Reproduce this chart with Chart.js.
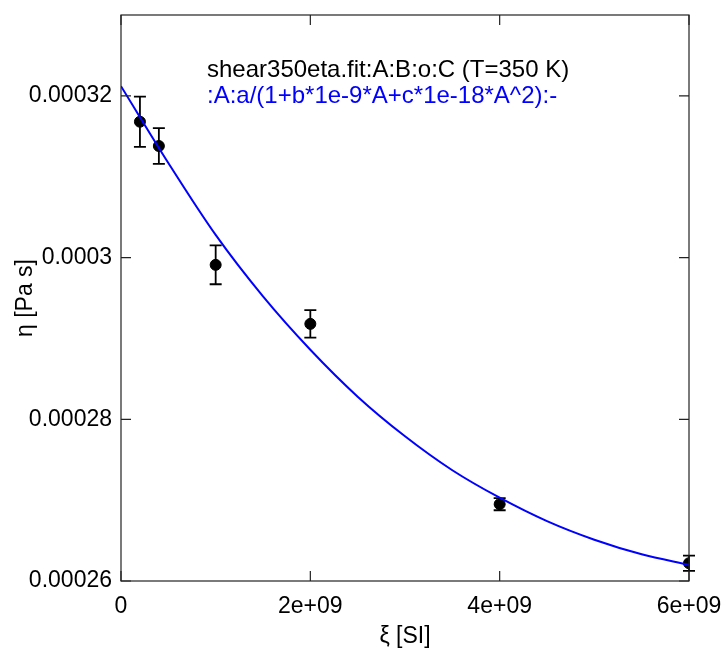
<!DOCTYPE html>
<html>
<head>
<meta charset="utf-8">
<script src="https://cdn.jsdelivr.net/npm/chart.js@4/dist/chart.umd.min.js"></script>
<style>
  html, body { margin: 0; padding: 0; background: #fff; }
</style>
</head>
<body>
<canvas id="fitChart" width="727" height="664"></canvas>
<script>
// measured points (shear rate vs viscosity) with error bars
const shearRates = [2e8, 4e8, 1e9, 2e9, 4e9, 6e9];
const viscosity = [0.0003168, 0.0003138, 0.0002991, 0.0002918, 0.0002695, 0.0002622];
const viscosityErr = [3.1e-6, 2.2e-6, 2.4e-6, 1.7e-6, 0.75e-6, 0.95e-6];

// fitted curve
const fitX = [0, 5e8, 1e9, 1.5e9, 2e9, 2.5e9, 3e9, 3.5e9, 4e9, 4.5e9, 5e9, 5.5e9, 6e9];
const fitY = [0.0003212, 0.0003117, 0.0003028, 0.0002952, 0.0002886, 0.0002828, 0.0002779,
              0.0002737, 0.0002703, 0.0002674, 0.0002651, 0.0002633, 0.0002620];

const xTicks = [0, 2e9, 4e9, 6e9];
const xTickLabels = ['0', '2e+09', '4e+09', '6e+09'];
const yTicks = [0.00026, 0.00028, 0.0003, 0.00032];
const yTickLabels = ['0.00026', '0.00028', '0.0003', '0.00032'];

const seriesTitle = 'shear350eta.fit:A:B:o:C (T=350 K)';
const fitTitle = ':A:a/(1+b*1e-9*A+c*1e-18*A^2):-';

const FONT = "'Liberation Sans', Arial, sans-serif";

const framePlugin = {
  id: 'frame',
  beforeDatasetsDraw(chart) {
    const {ctx, scales: {x, y}} = chart;
    ctx.save();
    ctx.strokeStyle = '#000';
    ctx.lineWidth = 1.8;
    shearRates.forEach((sx, i) => {
      const px = x.getPixelForValue(sx);
      const top = y.getPixelForValue(viscosity[i] + viscosityErr[i]);
      const bot = y.getPixelForValue(viscosity[i] - viscosityErr[i]);
      ctx.beginPath();
      ctx.moveTo(px, top); ctx.lineTo(px, bot);
      ctx.moveTo(px - 6, top); ctx.lineTo(px + 6, top);
      ctx.moveTo(px - 6, bot); ctx.lineTo(px + 6, bot);
      ctx.stroke();
    });
    ctx.restore();
  },
  afterDraw(chart) {
    const {ctx, chartArea: a, scales: {x, y}} = chart;
    ctx.save();
    ctx.strokeStyle = '#222';
    ctx.lineWidth = 1.2;
    ctx.strokeRect(a.left, a.top, a.right - a.left, a.bottom - a.top);
    ctx.beginPath();
    xTicks.forEach(v => {
      const px = x.getPixelForValue(v);
      ctx.moveTo(px, a.bottom); ctx.lineTo(px, a.bottom - 10);
      ctx.moveTo(px, a.top); ctx.lineTo(px, a.top + 10);
    });
    yTicks.forEach(v => {
      const py = y.getPixelForValue(v);
      ctx.moveTo(a.left, py); ctx.lineTo(a.left + 10, py);
      ctx.moveTo(a.right, py); ctx.lineTo(a.right - 10, py);
    });
    ctx.stroke();

    ctx.font = '24px ' + FONT;
    ctx.textBaseline = 'middle';
    ctx.textAlign = 'left';
    ctx.fillStyle = '#000';
    ctx.fillText(seriesTitle, 207, 70);
    ctx.fillStyle = '#0000ff';
    ctx.fillText(fitTitle, 207, 96);
    ctx.restore();
  }
};

new Chart(document.getElementById('fitChart'), {
  type: 'scatter',
  data: {
    datasets: [
      {
        type: 'line',
        label: 'fit',
        data: fitX.map((v, i) => ({x: v, y: fitY[i]})),
        borderColor: '#0000ff',
        borderWidth: 2,
        pointRadius: 0,
        cubicInterpolationMode: 'monotone',
        fill: false,
        order: 0
      },
      {
        label: 'data',
        data: shearRates.map((v, i) => ({x: v, y: viscosity[i]})),
        backgroundColor: '#000',
        borderColor: '#000',
        pointRadius: 5.5,
        order: 1
      }
    ]
  },
  options: {
    responsive: false,
    animation: false,
    devicePixelRatio: 1,
    layout: { padding: { left: 0, top: 15, right: 38, bottom: 0 } },
    plugins: { legend: { display: false }, tooltip: { enabled: false } },
    scales: {
      x: {
        type: 'linear',
        min: 0,
        max: 6e9,
        afterFit: s => { s.height = 83; s.paddingLeft = 0; s.paddingRight = 0; },
        afterBuildTicks: s => { s.ticks = xTicks.map(v => ({value: v})); },
        grid: { display: false, drawTicks: false },
        border: { display: false },
        ticks: {
          padding: 12,
          maxRotation: 0,
          color: '#000',
          font: { family: FONT, size: 23 },
          callback: (v) => xTickLabels[xTicks.indexOf(v)]
        },
        title: {
          display: true,
          text: 'ξ [SI]',
          color: '#000',
          font: { family: FONT, size: 23 },
          padding: { top: 0, bottom: 14 }
        }
      },
      y: {
        type: 'linear',
        min: 0.00026,
        max: 0.00033,
        afterFit: s => { s.width = 121; s.paddingTop = 0; s.paddingBottom = 0; },
        afterBuildTicks: s => { s.ticks = yTicks.map(v => ({value: v})); },
        grid: { display: false, drawTicks: false },
        border: { display: false },
        ticks: {
          padding: 9,
          color: '#000',
          font: { family: FONT, size: 23 },
          callback: (v) => yTickLabels[yTicks.indexOf(v)]
        },
        title: {
          display: true,
          text: 'η [Pa s]',
          color: '#000',
          font: { family: FONT, size: 23 },
          padding: { top: 12, bottom: 0 }
        }
      }
    }
  },
  plugins: [framePlugin]
});
</script>
</body>
</html>
